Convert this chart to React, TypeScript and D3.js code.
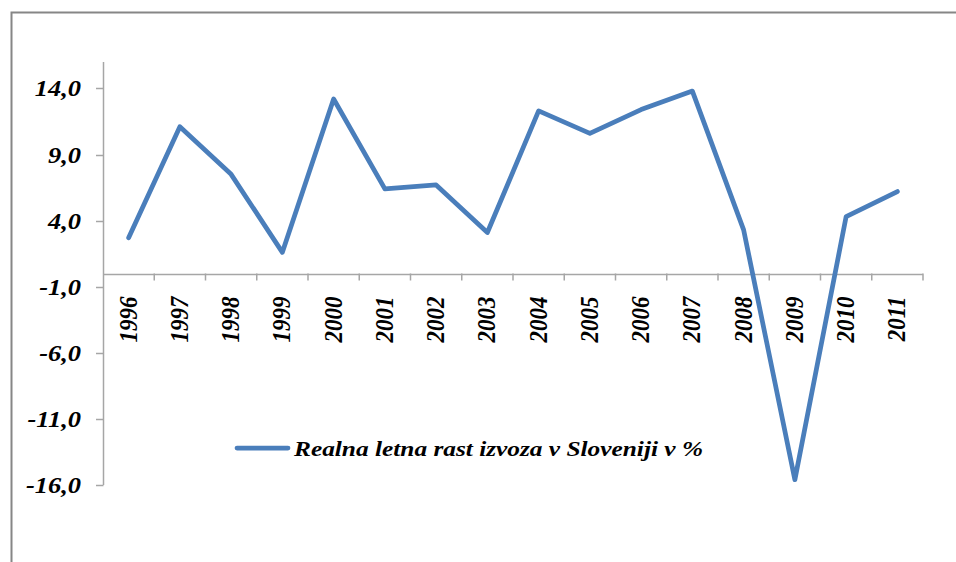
import React from "react";
import * as d3 from "d3";

const years = ["1996","1997","1998","1999","2000","2001","2002","2003","2004","2005","2006","2007","2008","2009","2010","2011"];
const growth = [2.7, 11.1, 7.5, 1.6, 13.2, 6.4, 6.7, 3.1, 12.3, 10.6, 12.4, 13.8, 3.3, -15.6, 4.3, 6.2];
const yTicks = [14, 9, 4, -1, -6, -11, -16];
const seriesName = "Realna letna rast izvoza v Sloveniji v %";

const W = 956, H = 562;
const FONT = "Liberation Serif, DejaVu Serif, Times New Roman, serif";

export default function App() {
  const x = d3.scaleBand<string>().domain(years).range([103, 923]);
  const y = d3.scaleLinear().domain([-16, 16]).range([485, 62]);
  const line = d3.line<number>()
    .x((_, i) => (x(years[i]) as number) + x.bandwidth() / 2)
    .y((d) => y(d));
  const fmt = (v: number) => v.toFixed(1).replace(".", ",");
  const axisColor = "#A6A6A6";
  const y0 = y(0);
  const textStyle = { fontFamily: FONT, fontWeight: 700, fontStyle: "italic" } as React.CSSProperties;
  return (
    <svg width={W} height={H} style={{ position: "absolute", left: 0, top: 0, background: "#fff" }}>
      <rect x={11.5} y={12.5} width={1000} height={600} fill="#fff" stroke="#868686" strokeWidth={2} />
      <line x1={103.5} x2={103.5} y1={y(16)} y2={y(-16)} stroke={axisColor} strokeWidth={1.5} />
      {yTicks.map((t) => (
        <g key={t}>
          <line x1={96} x2={103.5} y1={Math.round(y(t)) + 0.5} y2={Math.round(y(t)) + 0.5} stroke={axisColor} strokeWidth={1.5} />
          <text transform={`translate(81,${y(t)}) scale(1.15,1)`} dy="0.35em" textAnchor="end" style={textStyle} fontSize={23}>
            {fmt(t)}
          </text>
        </g>
      ))}
      <line x1={103} x2={923} y1={Math.round(y0) + 0.5} y2={Math.round(y0) + 0.5} stroke={axisColor} strokeWidth={1.5} />
      {years.map((yr) => (
        <line key={"t" + yr} x1={(x(yr) as number) + x.bandwidth()} x2={(x(yr) as number) + x.bandwidth()}
          y1={y0} y2={y0 + 7} stroke={axisColor} strokeWidth={1.5} />
      ))}
      {years.map((yr) => {
        const cx = (x(yr) as number) + x.bandwidth() / 2;
        return (
          <text key={"l" + yr} transform={`translate(${cx + 8},${y0 + 23}) rotate(-90) scale(1,1.12)`} textAnchor="end"
            style={textStyle} fontSize={23}>
            {yr}
          </text>
        );
      })}
      <path d={line(growth) as string} fill="none" stroke="#4A7EBB" strokeWidth={4.75} strokeLinejoin="round" strokeLinecap="round" />
      <line x1={237} x2={288} y1={448} y2={448} stroke="#4A7EBB" strokeWidth={4.75} strokeLinecap="round" />
      <text x={294} y={448} dy="0.35em" style={textStyle} fontSize={22} textLength={409} lengthAdjust="spacingAndGlyphs">
        {seriesName}
      </text>
    </svg>
  );
}
